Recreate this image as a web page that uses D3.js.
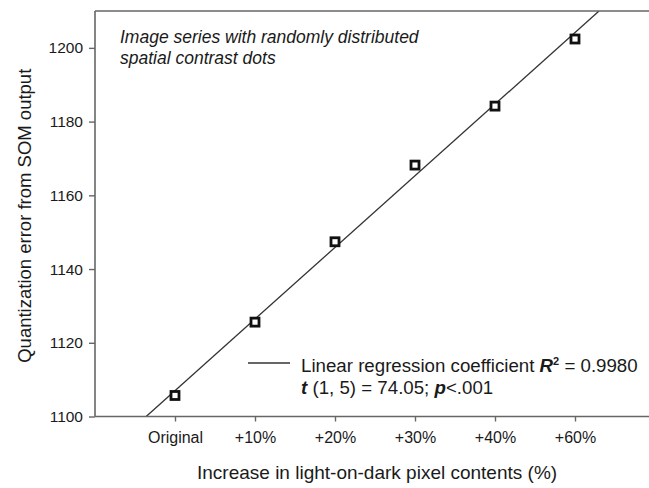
<!DOCTYPE html>
<html>
<head>
<meta charset="utf-8">
<script src="https://cdn.jsdelivr.net/npm/d3@7"></script>
<style>
  html, body { margin: 0; padding: 0; background: #fff; }
  svg { display: block; }
  text { font-family: Arial, "Liberation Sans", sans-serif; fill: #1a1a1a; }
</style>
</head>
<body>
<svg id="chart" width="649" height="488"></svg>
<script>
// ---- data ----
const categories = ["Original", "+10%", "+20%", "+30%", "+40%", "+60%"];
const values = [1105.7, 1125.6, 1147.4, 1168.2, 1184.2, 1202.4];
const yTicks = [1100, 1120, 1140, 1160, 1180, 1200];
const yDomain = [1100, 1210];
const xTitle = "Increase in light-on-dark pixel contents (%)";
const yTitle = "Quantization error from SOM output";
const noteLines = ["Image series with randomly distributed", "spatial contrast dots"];

// ---- layout ----
const svg = d3.select("#chart");
const mLeft = 95, mRight = 655, mTop = 11, mBottom = 416.5;
const FONT = "Arial, 'Liberation Sans', sans-serif";

const x = d3.scaleLinear().domain([-1, categories.length]).range([mLeft, mRight]);
const y = d3.scaleLinear().domain(yDomain).range([mBottom, mTop]);

svg.append("clipPath").attr("id", "clip")
  .append("rect").attr("x", mLeft).attr("y", mTop).attr("width", mRight - mLeft).attr("height", mBottom - mTop);

// regression (least squares on index)
const idx = values.map((_, i) => i);
const mx = d3.mean(idx), my = d3.mean(values);
const sxy = d3.sum(idx, i => (i - mx) * (values[i] - my));
const sxx = d3.sum(idx, i => (i - mx) * (i - mx));
const slope = sxy / sxx, intercept = my - slope * mx;
const xAt = v => (v - intercept) / slope;

svg.append("line")
  .attr("clip-path", "url(#clip)")
  .attr("x1", x(xAt(yDomain[0]))).attr("y1", y(yDomain[0]))
  .attr("x2", x(xAt(yDomain[1]))).attr("y2", y(yDomain[1]))
  .attr("stroke", "#333").attr("stroke-width", 1.3);

// frame: top line
svg.append("line").attr("x1", mLeft).attr("x2", mRight).attr("y1", mTop).attr("y2", mTop)
  .attr("stroke", "#666").attr("stroke-width", 1.6);

// y axis
const yAxis = svg.append("g").attr("transform", `translate(${mLeft},0)`)
  .call(d3.axisLeft(y).tickValues(yTicks).tickFormat(d3.format("d")).tickSize(6).tickPadding(6).tickSizeOuter(0));
yAxis.select(".domain").attr("stroke", "#666").attr("stroke-width", 1.6)
  .attr("d", `M0,${mTop}V${mBottom}`);
yAxis.selectAll(".tick line").attr("stroke", "#666").attr("stroke-width", 1.4);
yAxis.selectAll(".tick text").style("font-size", "15.5px").style("font-family", FONT).attr("fill", "#1a1a1a");

// x axis
const xAxis = svg.append("g").attr("transform", `translate(0,${mBottom})`)
  .call(d3.axisBottom(x).tickValues(idx).tickFormat(i => categories[i]).tickSize(5).tickPadding(10).tickSizeOuter(0));
xAxis.select(".domain").attr("stroke", "#666").attr("stroke-width", 1.6)
  .attr("d", `M${mLeft},0H${mRight}`);
xAxis.selectAll(".tick line").attr("stroke", "#666").attr("stroke-width", 1.4);
xAxis.selectAll(".tick text").style("font-size", "16px").style("font-family", FONT).attr("fill", "#1a1a1a");

// markers
svg.append("g").selectAll("rect").data(values).join("rect")
  .attr("x", (d, i) => x(i) - 4).attr("y", d => y(d) - 4)
  .attr("width", 8).attr("height", 8)
  .attr("fill", "#fff").attr("stroke", "#111").attr("stroke-width", 2.8);

// titles
svg.append("text").attr("x", 197).attr("y", 479)
  .attr("text-anchor", "start").style("font-size", "19px").text(xTitle);
svg.append("text").attr("transform", `translate(31,${(mTop + mBottom) / 2 + 2}) rotate(-90)`)
  .attr("text-anchor", "middle").style("font-size", "18.5px").text(yTitle);

// note
svg.append("g").selectAll("text").data(noteLines).join("text")
  .attr("x", 120).attr("y", (d, i) => 42.5 + i * 21)
  .style("font-size", "17.5px").style("font-style", "italic").text(d => d);

// legend
svg.append("line").attr("x1", 248).attr("x2", 290).attr("y1", 363).attr("y2", 363)
  .attr("stroke", "#333").attr("stroke-width", 1.3);
const l1 = svg.append("text").attr("x", 301).attr("y", 371.5).style("font-size", "18.7px");
l1.append("tspan").text("Linear regression coefficient ");
l1.append("tspan").style("font-weight", "bold").style("font-style", "italic").text("R");
l1.append("tspan").style("font-weight", "bold").style("font-size", "11px").attr("dy", -7).text("2");
l1.append("tspan").attr("dy", 7).text(" = 0.9980");
const l2 = svg.append("text").attr("x", 301).attr("y", 393.5).style("font-size", "18.7px");
l2.append("tspan").style("font-weight", "bold").style("font-style", "italic").text("t");
l2.append("tspan").text(" (1, 5) = 74.05; ");
l2.append("tspan").style("font-weight", "bold").style("font-style", "italic").text("p");
l2.append("tspan").text("<.001");
</script>
</body>
</html>
